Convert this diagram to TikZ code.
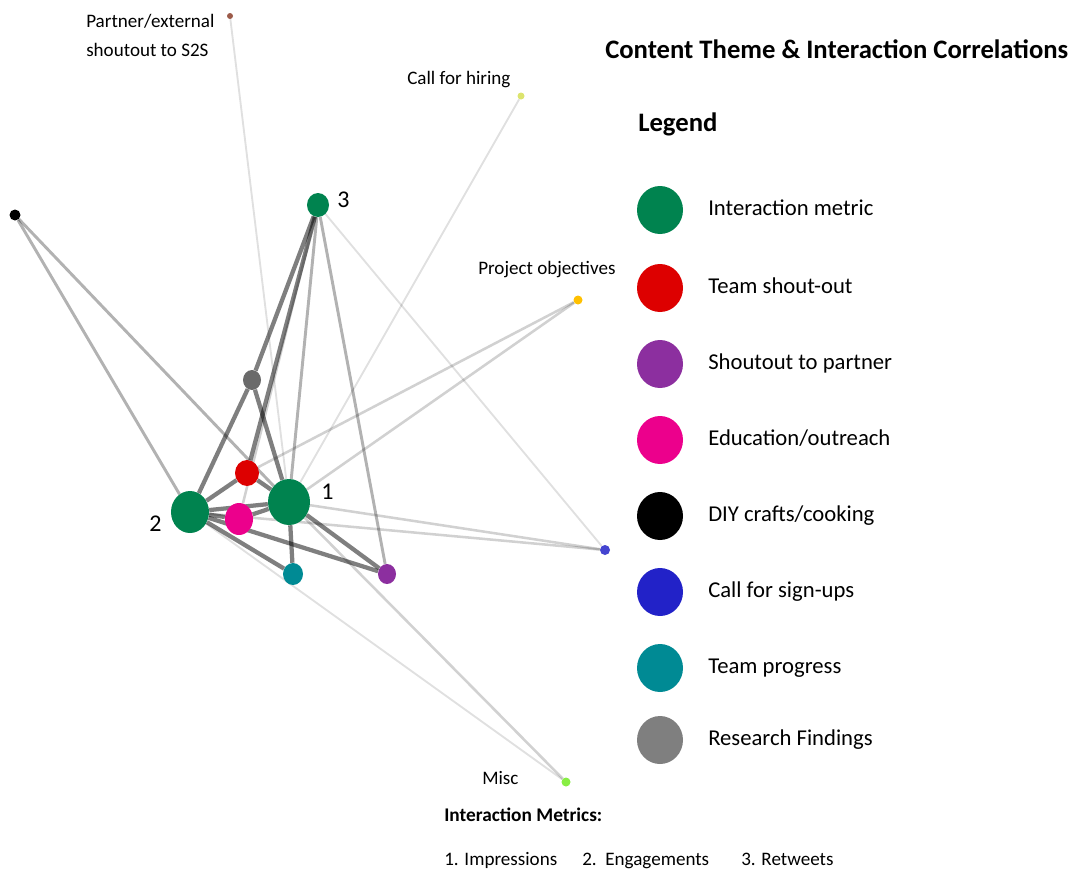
\documentclass[tikz,border=0pt]{standalone}
\usepackage{fontspec}
\setmainfont{Carlito}
\usetikzlibrary{shapes.geometric,backgrounds}
\definecolor{cgreen}{HTML}{00834F}
\definecolor{cred}{HTML}{DD0000}
\definecolor{cpurple}{HTML}{8C2F9F}
\definecolor{cpink}{HTML}{EC008C}
\definecolor{cblue}{HTML}{2222C8}
\definecolor{cteal}{HTML}{008A94}
\definecolor{cgrey}{HTML}{7F7F7F}
\definecolor{cgreyn}{HTML}{6A6A6A}
\definecolor{cbrown}{HTML}{9C5B4A}
\definecolor{cyellow}{HTML}{DCE46E}
\definecolor{corange}{HTML}{FFC000}
\definecolor{cblue2}{HTML}{4444D0}
\definecolor{cmisc}{HTML}{88EE44}
\begin{document}
\begin{tikzpicture}[x=0.75pt,y=-0.75pt,
  nd/.style n args={3}{ellipse,draw=none,fill=#1,inner sep=0pt,minimum width=#2*0.75pt,minimum height=#3*0.75pt},
  estrong/.style={draw=black,draw opacity=0.5,line width=3.2pt},
  emed/.style={draw=black,draw opacity=0.3,line width=2.2pt},
  elight/.style={draw=black,draw opacity=0.18,line width=1.9pt},
  efaint/.style={draw=black,draw opacity=0.12,line width=1.4pt},
  lbl/.style={anchor=base west,inner sep=0pt,font=\fontsize{14.3pt}{17pt}\selectfont},
  num/.style={anchor=base west,inner sep=0pt,font=\fontsize{18pt}{21pt}\selectfont},
  legc/.style={ellipse,draw=none,fill=#1,inner sep=0pt,minimum width=46*0.75pt,minimum height=48*0.75pt},
  legt/.style={anchor=base west,inner sep=0pt,font=\fontsize{17pt}{20pt}\selectfont},
  ttl/.style={anchor=base west,inner sep=0pt,font=\fontsize{20pt}{24pt}\selectfont\bfseries},
]
\useasboundingbox (0,0) rectangle (1074,872);
% graph nodes
\node[nd={cgreen}{42}{46}] (n1) at (289,502) {};
\node[nd={cgreen}{38}{42}] (n2) at (190,512) {};
\node[nd={cgreen}{22}{24}] (n3) at (318,205) {};
\node[nd={cgreyn}{18}{20}] (grey) at (252,380) {};
\node[nd={cred}{24}{26}] (red) at (247,473) {};
\node[nd={cpink}{28}{32}] (pink) at (239,519) {};
\node[nd={cteal}{20}{22}] (teal) at (293,574) {};
\node[nd={cpurple}{18}{20}] (purple) at (387,574) {};
\node[nd={black}{11}{11}] (diy) at (15,215) {};
\node[nd={cbrown}{6}{6}] (brown) at (230,16) {};
\node[nd={cyellow}{7}{7}] (hire) at (521,96) {};
\node[nd={corange}{9}{9}] (obj) at (578,300) {};
\node[nd={cblue2}{10}{10}] (sign) at (605,550) {};
\node[nd={cmisc}{9}{9}] (misc) at (566,782) {};
% edges
\begin{scope}[on background layer]
  \draw[estrong] (n3) -- (grey);
  \draw[estrong] (n3) -- (red);
  \draw[elight] (n3) -- (pink);
  \draw[emed] (n3) -- (n1);
  \draw[emed] (n3) -- (purple);
  \draw[efaint] (n3) -- (sign);
  \draw[estrong] (grey) -- (n2);
  \draw[estrong] (grey) -- (n1);
  \draw[estrong] (n2) -- (red);
  \draw[estrong] (red) -- (n1);
  \draw[estrong] (n2) -- (pink);
  \draw[estrong] (pink) -- (n1);
  \draw[estrong] (n2) -- (n1);
  \draw[estrong] (n2) -- (teal);
  \draw[estrong] (n1) -- (teal);
  \draw[estrong] (n1) -- (purple);
  \draw[estrong] (n2) -- (purple);
  \draw[emed] (diy) -- (n2);
  \draw[emed] (diy) -- (n1);
  \draw[efaint] (brown) -- (n1);
  \draw[efaint] (hire) -- (n1);
  \draw[elight] (obj) -- (red);
  \draw[elight] (obj) -- (n1);
  \draw[elight] (n1) -- (sign);
  \draw[elight] (n2) -- (sign);
  \draw[efaint] (n2) -- (misc);
  \draw[elight] (n1) -- (misc);
\end{scope}
% node numbers
\node[num] (l1) at (321,499) {1};
\node[num] (l2) at (149,531) {2};
\node[num] (l3) at (337,207) {3};
% outer labels
\node[lbl] (tbrown1) at (86,27) {Partner/external};
\node[lbl] (tbrown2) at (86,56) {shoutout to S2S};
\node[lbl] (thire) at (407,84) {Call for hiring};
\node[lbl] (tobj) at (478,274) {Project objectives};
\node[lbl] (tmisc) at (482,784) {Misc};
% title and legend
\node[ttl] (title) at (605,58) {Content Theme \& Interaction Correlations};
\node[ttl] (legend) at (638,131) {Legend};
\node[legc=cgreen] (lg1) at (660,210) {};
\node[legc=cred] (lg2) at (660,288) {};
\node[legc=cpurple] (lg3) at (660,364) {};
\node[legc=cpink] (lg4) at (660,440) {};
\node[legc=black] (lg5) at (660,516) {};
\node[legc=cblue] (lg6) at (660,592) {};
\node[legc=cteal] (lg7) at (660,668) {};
\node[legc=cgrey] (lg8) at (660,740) {};
\node[legt] (lt1) at (708,215) {Interaction metric};
\node[legt] (lt2) at (708,293) {Team shout-out};
\node[legt] (lt3) at (708,369) {Shoutout to partner};
\node[legt] (lt4) at (708,445) {Education/outreach};
\node[legt] (lt5) at (708,521) {DIY crafts/cooking};
\node[legt] (lt6) at (708,597) {Call for sign-ups};
\node[legt] (lt7) at (708,673) {Team progress};
\node[legt] (lt8) at (708,745) {Research Findings};
% metrics
\node[lbl,font=\fontsize{14.5pt}{17pt}\selectfont\bfseries] (mt) at (444,821) {Interaction Metrics:};
\node[lbl] (m1) at (444,865) {1. Impressions};
\node[lbl] (m2) at (582,865) {2.\ \ Engagements};
\node[lbl] (m3) at (741,865) {3. Retweets};
\end{tikzpicture}
\end{document}
